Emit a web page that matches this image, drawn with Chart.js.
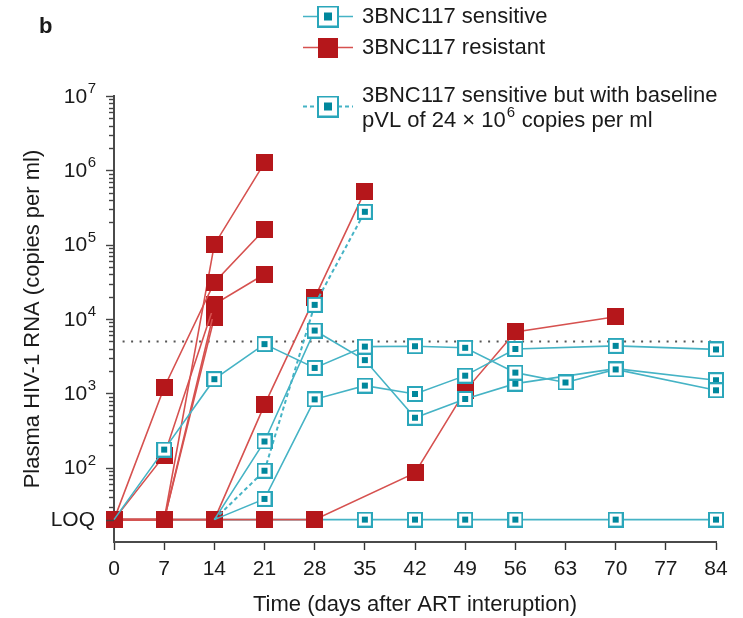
<!DOCTYPE html>
<html>
<head>
<meta charset="utf-8">
<script src="https://cdn.jsdelivr.net/npm/chart.js@4.4.1/dist/chart.umd.min.js"></script>
<style>
  html, body { margin: 0; padding: 0; background: #ffffff; }
  #wrap { width: 743px; height: 618px; position: relative; }
</style>
</head>
<body>
<div id="wrap"><canvas id="c" width="743" height="618"></canvas></div>
<script>
// ---- data (copies per ml; null = no sample that day) ----
const LOQ = 20;                 // limit of quantification
const THRESHOLD = 5000;         // dotted reference level
const days = [0, 7, 14, 21, 28, 35, 42, 49, 56, 63, 70, 77, 84];
const decadeExponents = [2, 3, 4, 5, 6, 7];

// 3BNC117 resistant participants
const resistant1 = [LOQ, 1200, 31000, 160000, null, null, null, null, null, null, null, null, null];
const resistant2 = [LOQ, LOQ, 100000, 1260000, null, null, null, null, null, null, null, null, null];
const resistant3 = [LOQ, 145, 15800, 40000, null, null, null, null, null, null, null, null, null];
const resistant4 = [LOQ, LOQ, 13000, null, null, null, null, null, null, null, null, null, null];
const resistant5 = [LOQ, LOQ, 10500, null, null, null, null, null, null, null, null, null, null];
const resistant6 = [LOQ, LOQ, LOQ, 700, 19200, 520000, null, null, null, null, null, null, null];
const resistant7 = [LOQ, LOQ, LOQ, LOQ, LOQ, null, 85, 1080, 6700, null, 10700, null, null];

// 3BNC117 sensitive participants
const sensitiveLoq = [LOQ, LOQ, LOQ, LOQ, LOQ, LOQ, LOQ, LOQ, LOQ, null, LOQ, null, LOQ];
const sensitive1 = [LOQ, 175, 1550, 4600, 2200, 4250, 4300, 4100, 1900, 1400, 2100, null, 1100];
const sensitive2 = [null, null, LOQ, 225, 7000, 2800, 470, 840, 1350, null, 2150, null, 1500];
const sensitive3 = [null, null, LOQ, 38, 830, 1270, 980, 1730, 3950, null, 4350, null, 3900];
// sensitive, high baseline pVL
const sensitiveHighBaseline = [null, null, LOQ, 91, 15500, 277000, null, null, null, null, null, null, null];

// ---- styling ----
const FONT = "'Liberation Sans', Arial, Helvetica, sans-serif";
const RED = '#b5171b';
const RED_LINE = '#d6514f';
const TEAL = '#2aa6ba';
const TEAL_DARK = '#00879c';
const TEAL_LINE = '#45b3c5';
const INK = '#1a1a1a';
const AXIS = '#4a4a4a';

function resistantMarker(size) {
  const c = document.createElement('canvas');
  c.width = c.height = size;
  const g = c.getContext('2d');
  g.fillStyle = RED;
  g.fillRect(0, 0, size, size);
  return c;
}
function sensitiveMarker(size, inner, stroke) {
  const c = document.createElement('canvas');
  c.width = c.height = size;
  const g = c.getContext('2d');
  g.fillStyle = '#ffffff';
  g.fillRect(0, 0, size, size);
  g.strokeStyle = TEAL;
  g.lineWidth = stroke;
  g.strokeRect(stroke / 2, stroke / 2, size - stroke, size - stroke);
  g.fillStyle = TEAL_DARK;
  const o = (size - inner) / 2;
  g.fillRect(o, o, inner, inner);
  return c;
}
const redPt = resistantMarker(17);
const tealPt = sensitiveMarker(16, 6, 2);
const redLegend = resistantMarker(20);
const tealLegend = sensitiveMarker(22, 8, 2);

function toPoints(values) {
  return days.map((d, i) => ({ x: d, y: values[i] })).filter(p => p.y !== null);
}

function resistantSet(values) {
  return {
    data: toPoints(values),
    borderColor: RED_LINE, borderWidth: 1.6,
    pointStyle: redPt, pointRadius: 9,
    order: 2, clip: false
  };
}
// points at LOQ in the first weeks sit under the resistant squares, so they are not drawn
function hiddenAtLoq(ctx) {
  const p = ctx.raw;
  return p && p.y === LOQ && p.x <= 28;
}
function sensitiveSet(values, dashed, order) {
  return {
    data: toPoints(values),
    borderColor: TEAL_LINE, borderWidth: dashed ? 2 : 1.6,
    borderDash: dashed ? [4, 3] : [],
    pointStyle: ctx => (order === 1 && hiddenAtLoq(ctx)) ? 'circle' : tealPt,
    pointRadius: ctx => (order === 1 && hiddenAtLoq(ctx)) ? 0 : 8,
    order: order, clip: false
  };
}

const datasets = [
  {
    data: [{ x: 1.2, y: THRESHOLD }, { x: 84, y: THRESHOLD }],
    borderColor: '#555555', borderWidth: 2, borderDash: [2, 6.5],
    pointRadius: 0, order: 5
  },
  sensitiveSet(sensitiveLoq, false, 3),
  resistantSet(resistant1),
  resistantSet(resistant2),
  resistantSet(resistant3),
  resistantSet(resistant4),
  resistantSet(resistant5),
  resistantSet(resistant6),
  resistantSet(resistant7),
  sensitiveSet(sensitive1, false, 1),
  sensitiveSet(sensitive2, false, 1),
  sensitiveSet(sensitive3, false, 1),
  sensitiveSet(sensitiveHighBaseline, true, 1)
];

// y-axis tick marks, power-of-ten labels, panel letter and key
const decor = {
  id: 'decor',
  afterDraw(chart) {
    const ctx = chart.ctx;
    const ys = chart.scales.y;
    const axisX = chart.chartArea.left;
    ctx.save();

    // tick marks
    ctx.strokeStyle = '#444444';
    ctx.lineWidth = 1.4;
    const tick = (v, len) => {
      const y = Math.round(ys.getPixelForValue(v)) + 0.5;
      ctx.beginPath();
      ctx.moveTo(axisX - len, y);
      ctx.lineTo(axisX, y);
      ctx.stroke();
    };
    for (let e = 1; e <= 6; e++) {
      for (let m = 2; m <= 9; m++) {
        const v = m * Math.pow(10, e);
        if (v >= 30) tick(v, 5);
      }
    }
    decadeExponents.forEach(e => tick(Math.pow(10, e), 8));
    tick(LOQ, 8);

    // labels
    ctx.fillStyle = INK;
    ctx.textBaseline = 'middle';
    ctx.textAlign = 'right';
    const right = 96;
    decadeExponents.forEach(e => {
      const y = ys.getPixelForValue(Math.pow(10, e));
      ctx.font = '15px ' + FONT;
      const sup = String(e);
      const sw = ctx.measureText(sup).width;
      ctx.fillText(sup, right, y - 7);
      ctx.font = '21px ' + FONT;
      ctx.fillText('10', right - sw - 0.5, y + 1);
    });
    ctx.font = '21px ' + FONT;
    ctx.fillText('LOQ', 95, ys.getPixelForValue(LOQ) + 1);

    // panel letter
    ctx.textAlign = 'left';
    ctx.textBaseline = 'alphabetic';
    ctx.font = 'bold 22px ' + FONT;
    ctx.fillText('b', 39, 33);

    // key
    const lx0 = 303, lx1 = 353, mx = 328, tx = 362;
    const keyLine = (y, color, dash, w) => {
      ctx.save();
      ctx.strokeStyle = color;
      ctx.lineWidth = w;
      ctx.setLineDash(dash);
      ctx.beginPath();
      ctx.moveTo(lx0, y);
      ctx.lineTo(lx1, y);
      ctx.stroke();
      ctx.restore();
    };
    ctx.font = '22px ' + FONT;
    ctx.textBaseline = 'middle';

    keyLine(16.5, TEAL_LINE, [], 1.6);
    ctx.drawImage(tealLegend, mx - 11, 16.5 - 11);
    ctx.fillText('3BNC117 sensitive', tx, 17);

    keyLine(47.5, RED_LINE, [], 1.6);
    ctx.drawImage(redLegend, mx - 10, 47.5 - 10);
    ctx.fillText('3BNC117 resistant', tx, 48);

    keyLine(106.5, TEAL_LINE, [4, 3], 2);
    ctx.drawImage(tealLegend, mx - 11, 106.5 - 11);
    ctx.fillText('3BNC117 sensitive but with baseline', tx, 96);
    let x = tx;
    const part1 = 'pVL of 24 \u00d7 10';
    ctx.fillText(part1, x, 121);
    x += ctx.measureText(part1).width + 1;
    ctx.font = '15px ' + FONT;
    ctx.fillText('6', x, 113);
    x += ctx.measureText('6').width + 0.5;
    ctx.font = '22px ' + FONT;
    ctx.fillText(' copies per ml', x, 121);

    ctx.restore();
  }
};

new Chart(document.getElementById('c'), {
  type: 'line',
  data: { datasets },
  options: {
    responsive: false,
    animation: false,
    devicePixelRatio: 1,
    layout: { padding: { top: 96, right: 27, left: 0, bottom: 0 } },
    plugins: { legend: { display: false }, tooltip: { enabled: false } },
    scales: {
      x: {
        type: 'linear', min: 0, max: 84,
        ticks: {
          stepSize: 7, autoSkip: false, maxRotation: 0,
          font: { family: FONT, size: 21 }, color: INK, padding: 7
        },
        grid: {
          display: true, drawOnChartArea: false, drawTicks: true,
          tickLength: 8, tickColor: '#333333', tickWidth: 1.4
        },
        border: { display: true, color: AXIS, width: 2 },
        title: {
          display: true, text: 'Time (days after ART interuption)',
          font: { family: FONT, size: 22 }, color: INK,
          padding: { top: 0, bottom: 0 }
        },
        afterFit: s => { s.height = 76; }
      },
      y: {
        type: 'logarithmic', min: 10, max: 1e7,
        ticks: { display: false },
        grid: { display: false },
        border: { display: true, color: AXIS, width: 2 },
        title: {
          display: true, text: 'Plasma HIV-1 RNA (copies per ml)',
          font: { family: FONT, size: 22 }, color: INK,
          padding: { top: 20, bottom: 0 }
        },
        afterFit: s => { s.width = 114; }
      }
    }
  },
  plugins: [decor]
});
</script>
</body>
</html>
